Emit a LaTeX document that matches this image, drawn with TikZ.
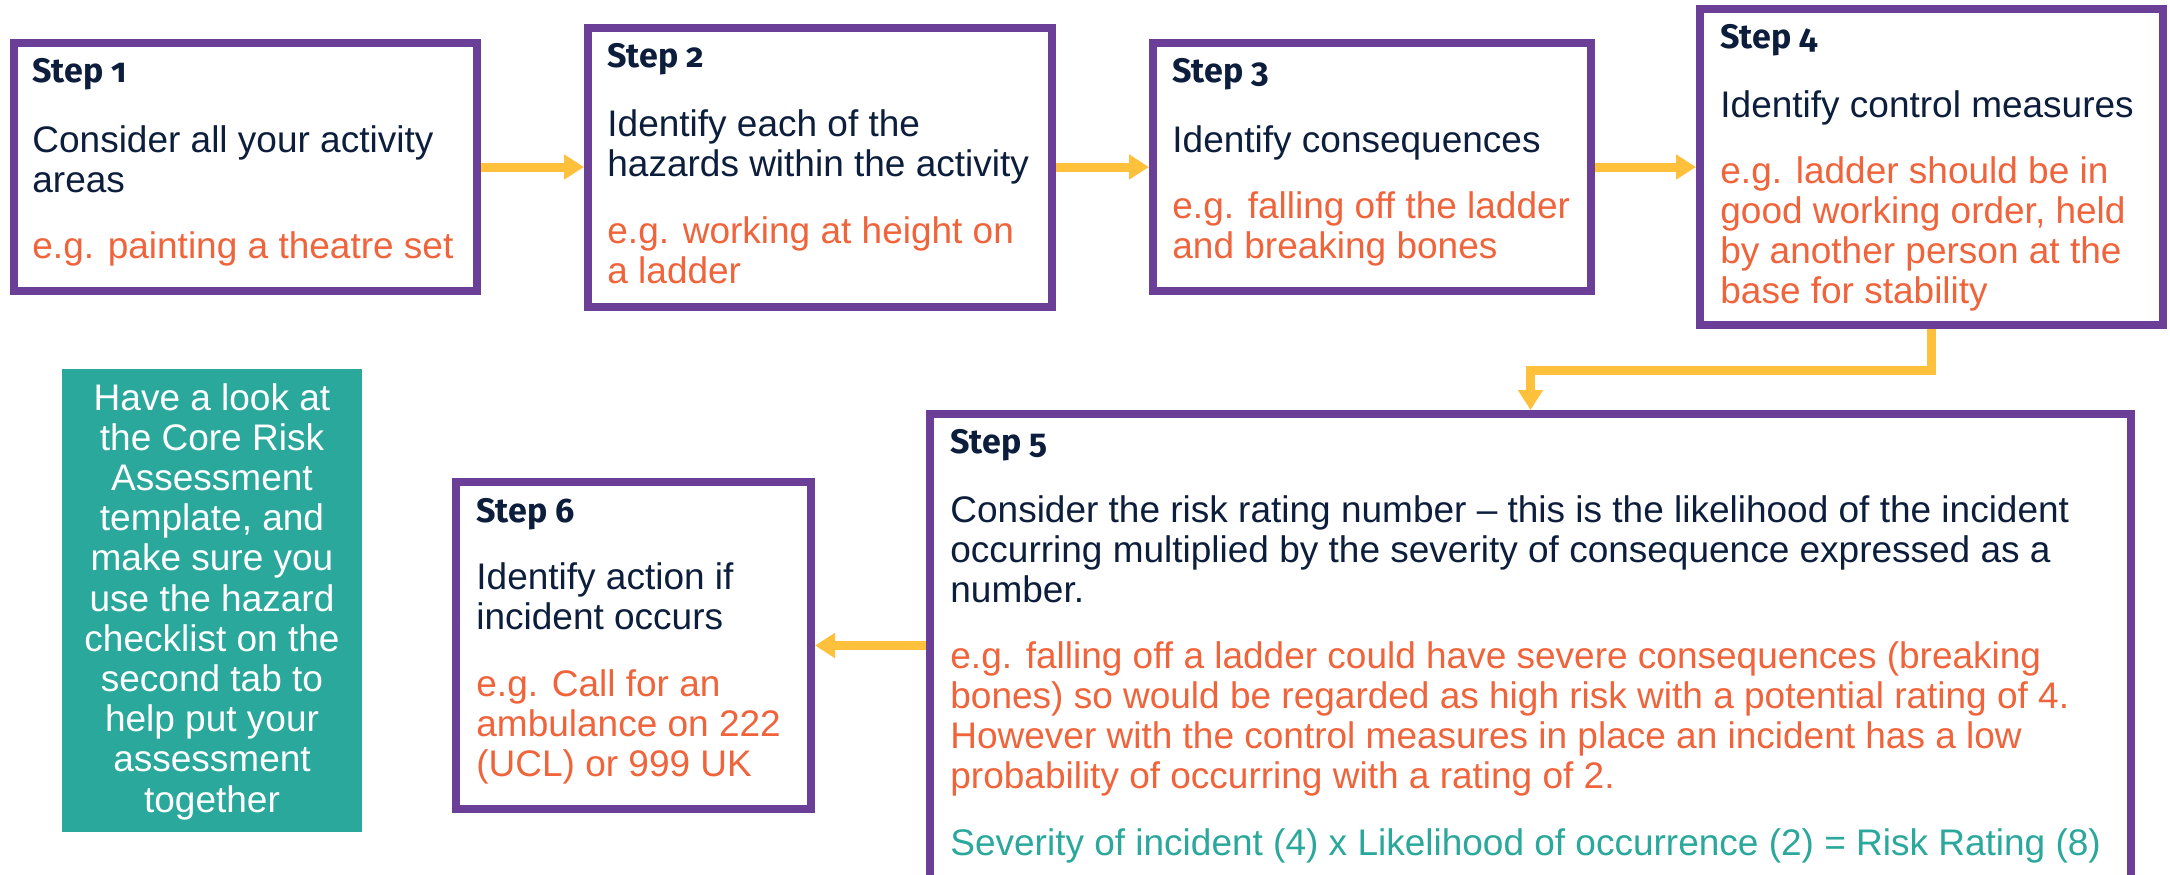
\documentclass[tikz,border=0pt]{standalone}
\usepackage{fontspec}
\setmainfont{Liberation Sans}
\newfontfamily\headfont[Numbers=OldStyle]{Fira Sans}
\usetikzlibrary{arrows.meta,calc,fit}
\definecolor{boxpurple}{HTML}{6B3F98}
\definecolor{flowyellow}{HTML}{FFC13B}
\definecolor{navy}{HTML}{0C1E3C}
\definecolor{egorange}{HTML}{F0643C}
\definecolor{tealc}{HTML}{2BA89C}
\begin{document}
\begin{tikzpicture}[x=0.5pt,y=-0.5pt,
  stepbox/.style={draw=boxpurple,line width=4pt,fill=white,inner sep=0pt,outer sep=2pt},
  notebox/.style={fill=tealc,inner sep=0pt,outer sep=0pt},
  flow/.style={draw=flowyellow,line width=4.5pt,-{Triangle[length=10pt,width=12pt]}},
  head/.style={anchor=base west,inner sep=0pt,text=navy,font=\headfont\bfseries\fontsize{17}{20}\selectfont},
  body/.style={anchor=base west,inner sep=0pt,align=left,text=navy,font=\fontsize{18.5}{20}\selectfont},
  eg/.style={body,text=egorange},
  calc/.style={body,text=tealc},
  notetext/.style={anchor=base,inner sep=0pt,align=center,text=white,font=\fontsize{18.5}{20.1}\selectfont},
]
\clip (0,0) rectangle (2170,874);
\fill[white] (0,0) rectangle (2170,874);

% boxes
\node[stepbox,fit={(14,43) (477,291)}] (s1) {};
\node[stepbox,fit={(588,28) (1052,307)}] (s2) {};
\node[stepbox,fit={(1153,43) (1591,291)}] (s3) {};
\node[stepbox,fit={(1700,9) (2163,325)}] (s4) {};
\node[stepbox,fit={(930,414) (2131,900)}] (s5) {};
\node[stepbox,fit={(456,482) (811,809)}] (s6) {};
\node[notebox,fit={(62,369) (362,832)}] (note) {};

% multi-line nodes are placed at the baseline of their last line
% step 1
\node[head] (h1) at (32,82) {Step 1};
\node[body] (b1) at (32,192) {Consider all your activity\\areas};
\node[eg] (e1) at (32,258) {e.g. painting a theatre set};
% step 2
\node[head] (h2) at (607,67) {Step 2};
\node[body] (b2) at (607,176) {Identify each of the\\hazards within the activity};
\node[eg] (e2) at (607,283) {e.g. working at height on\\a ladder};
% step 3
\node[head] (h3) at (1172,82) {Step 3};
\node[body] (b3) at (1172,152) {Identify consequences};
\node[eg] (e3) at (1172,258) {e.g. falling off the ladder\\and breaking bones};
% step 4
\node[head] (h4) at (1720,48) {Step 4};
\node[body] (b4) at (1720,117) {Identify control measures};
\node[eg] (e4) at (1720,303) {e.g. ladder should be in\\good working order, held\\by another person at the\\base for stability};
% step 5
\node[head] (h5) at (950,453) {Step 5};
\node[body] (b5) at (950,602) {Consider the risk rating number – this is the likelihood of the incident\\occurring multiplied by the severity of consequence expressed as a\\number.};
\node[eg] (e5) at (950,788) {e.g. falling off a ladder could have severe consequences (breaking\\bones) so would be regarded as high risk with a potential rating of 4.\\However with the control measures in place an incident has a low\\probability of occurring with a rating of 2.};
\node[calc] (c5) at (950,855) {Severity of incident (4) x Likelihood of occurrence (2) = Risk Rating (8)};
% step 6
\node[head] (h6) at (476,522) {Step 6};
\node[body] (b6) at (476,629) {Identify action if\\incident occurs};
\node[eg] (e6) at (476,776) {e.g. Call for an\\ambulance on 222\\(UCL) or 999 UK};
% note
\node[notetext] (nt) at (212,812) {Have a look at\\the Core Risk\\Assessment\\template, and\\make sure you\\use the hazard\\checklist on the\\second tab to\\help put your\\assessment\\together};

% connectors
\draw[flow] (s1.east) -- (s2.west |- s1.east);
\draw[flow] (s2.east |- s3.west) -- (s3.west);
\draw[flow] (s3.east) -- (s4.west |- s3.east);
\draw[flow] (s4.south) -- ($(s4.south)+(0,41)$) -| (s5.north);
\draw[flow] (s5.west |- s6.east) -- (s6.east);
\end{tikzpicture}
\end{document}
